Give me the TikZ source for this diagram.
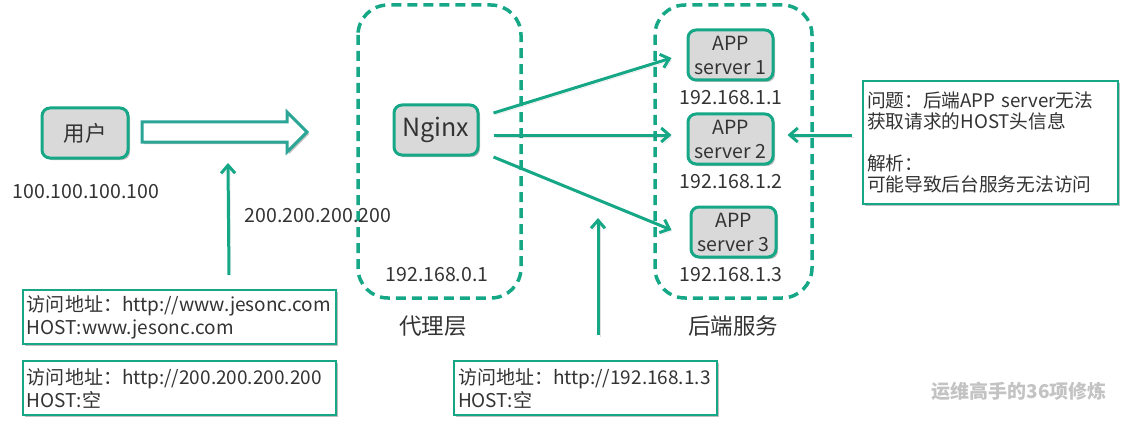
\documentclass[tikz,border=0pt]{standalone}
\usepackage{fontspec}
\setmainfont{Noto Sans CJK SC}
\usetikzlibrary{arrows.meta,shadows,calc}
\definecolor{tealg}{RGB}{22,168,134}
\definecolor{harrowc}{RGB}{42,165,150}
\definecolor{boxfill}{RGB}{217,217,217}
\definecolor{txt}{RGB}{51,51,51}
\definecolor{wm}{RGB}{195,195,195}
\begin{document}
\begin{tikzpicture}[x=1pt,y=-1pt,
  font=\fontsize{19}{23}\selectfont, text=txt,
  shd/.style={drop shadow={shadow xshift=2pt, shadow yshift=-2pt, opacity=0.25, fill=black}},
  rbox/.style={draw=tealg, line width=3pt, fill=boxfill, rounded corners=8pt,
    minimum width=85pt, minimum height=50pt, inner sep=0pt, align=center, shd},
  tbox/.style={draw=tealg, line width=2pt, fill=white, inner xsep=4pt, inner ysep=2pt,
    align=left, anchor=north west, shd},
  grp/.style={draw=tealg, line width=3.5pt, dash pattern=on 10pt off 6pt, rounded corners=30pt},
  lbl/.style={inner sep=0pt},
  conn/.style={draw=tealg, line width=3pt,
    -{Straight Barb[length=8pt,width=14pt,line width=3pt]},
    preaction={draw=black, opacity=0.12, transform canvas={shift={(2pt,-2pt)}}}}
]
\useasboundingbox (0,0) rectangle (1126,425);

% groups
\draw[grp] (358,5) rectangle (521,298);
\draw[grp] (655,5) rectangle (812,298);

% main nodes
\node[rbox, minimum width=86pt, font=\fontsize{21.5}{24}\selectfont] (user) at (85,133) {用户};
\node[rbox, minimum width=84pt, font=\fontsize{25}{28}\selectfont] (nginx) at (436,130) {Nginx};
\node[rbox, font=\fontsize{19.5}{24}\selectfont] (s1) at (730.5,55) {APP\\server 1};
\node[rbox, font=\fontsize{19.5}{24}\selectfont] (s2) at (730.5,139) {APP\\server 2};
\node[rbox, font=\fontsize{19.5}{24}\selectfont] (s3) at (733.5,232) {APP\\server 3};

% labels
\node[lbl, font=\fontsize{19.5}{23}\selectfont] (ipu) at (86,192) {100.100.100.100};
\node[lbl, font=\fontsize{19.5}{23}\selectfont] (ipp) at (318,216) {200.200.200.200};
\node[lbl, font=\fontsize{19.5}{23}\selectfont] (ipn) at (437,275) {192.168.0.1};
\node[lbl, font=\fontsize{19.5}{23}\selectfont] (ip1) at (731,98) {192.168.1.1};
\node[lbl, font=\fontsize{19.5}{23}\selectfont] (ip2) at (731,182) {192.168.1.2};
\node[lbl, font=\fontsize{19.5}{23}\selectfont] (ip3) at (731,275) {192.168.1.3};
\node[lbl, font=\fontsize{22.5}{26}\selectfont] (gp) at (433,326) {代理层};
\node[lbl, font=\fontsize{22.5}{26}\selectfont] (gb) at (733,326) {后端服务};

% hollow arrow
\draw[draw=harrowc, line width=3pt, fill=white, line join=miter, shd]
  (142,122) -- (287,122) -- (287,112) -- (307,132) -- (287,152) -- (287,142) -- (142,142) -- cycle;
\coordinate (hbot) at (228,163);

% text boxes
\node[tbox, minimum width=313pt, minimum height=54pt, text width=305pt] (b1) at (22,289)
  {访问地址：http://www.jesonc.com\\HOST:www.jesonc.com};
\node[tbox, minimum width=313pt, minimum height=54pt, text width=305pt] (b2) at (22,360)
  {访问地址：http://200.200.200.200\\HOST:空};
\node[tbox, minimum width=263pt, minimum height=54pt, text width=255pt] (b3) at (453,360)
  {访问地址：http://192.168.1.3\\HOST:空};
\node[tbox, minimum width=255pt, minimum height=123pt, text width=247pt,
  font=\fontsize{18.7}{21}\selectfont] (bq) at (862,80)
  {问题：后端APP server无法\\获取请求的HOST头信息\\[21pt]解析：\\可能导致后台服务无法访问};

% connectors
\draw[conn] ([xshift=49.5pt]b1.north |- 0,275) -- (hbot);
\coordinate (vtop) at (598,218);
\draw[conn] (598,335) -- (vtop);
\draw[conn] ([shift={(14,-17)}]nginx.east) -- ([shift={(-15,3)}]s1.west);
\draw[conn] ([shift={(14,5)}]nginx.east) -- ([shift={(-15,-4)}]s2.west);
\draw[conn] ([shift={(14,27)}]nginx.east) -- ([shift={(-18,-2)}]s3.west);
\draw[conn] ([xshift=-10pt]bq.west |- s2) ++(0,-4) -- ([shift={(13,-4)}]s2.east);

% watermark
\node[lbl, text=wm, font=\bfseries\fontsize{19}{22}\selectfont] (wmk) at (1019,391) {运维高手的36项修炼};
\end{tikzpicture}
\end{document}
